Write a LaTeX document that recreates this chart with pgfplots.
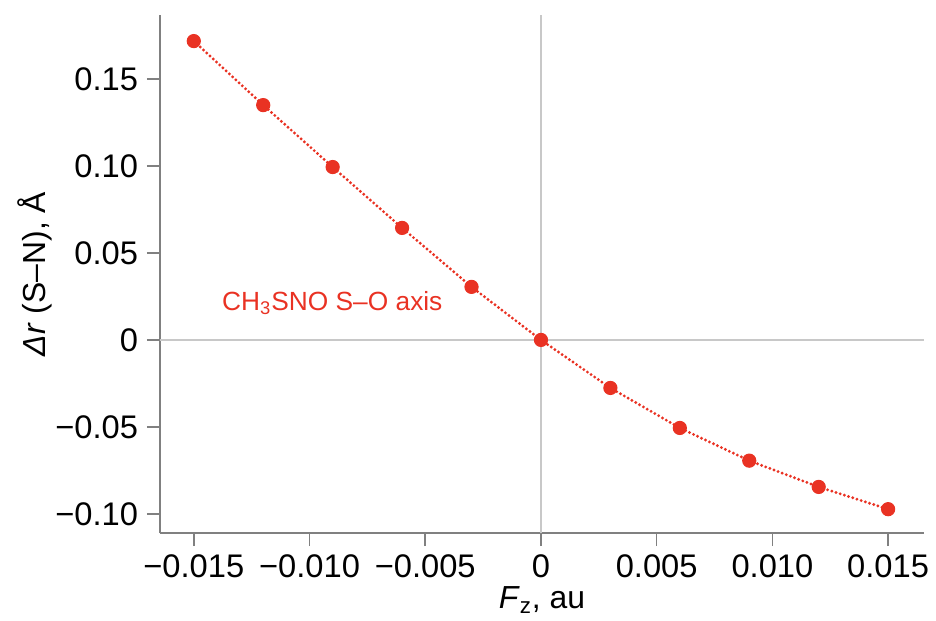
\documentclass[border=0pt]{standalone}
\usepackage{fontspec}
\setmainfont{Liberation Sans}
\usepackage{pgfplots}
\pgfplotsset{compat=1.18}
\definecolor{ptred}{RGB}{233,50,35}
\definecolor{axgray}{RGB}{128,128,128}
\definecolor{zerogray}{RGB}{200,200,200}
\begin{document}
\begin{tikzpicture}
\begin{axis}[
  name=ax,
  width=382bp, height=259bp, scale only axis,
  xmin=-0.01646, xmax=0.01655,
  ymin=-0.111, ymax=0.1868,
  axis lines*=left,
  axis line style={axgray, line width=0.8bp},
  tick style={axgray, line width=0.8bp},
  tick align=outside,
  major tick length=6.5bp,
  xtick={-0.015,-0.01,-0.005,0,0.005,0.01,0.015},
  xticklabels={−0.015,−0.010,−0.005,0,0.005,0.010,0.015},
  ytick={-0.1,-0.05,0,0.05,0.1,0.15},
  yticklabels={−0.10,−0.05,0,0.05,0.10,0.15},
  tick label style={font=\fontsize{16.4}{19}\selectfont},
  xticklabel style={yshift=-1bp},
  yticklabel style={xshift=-1bp},
  scaled x ticks=false,
  scaled y ticks=false,
  xlabel={\textit{F}\textsubscript{z}, au},
  ylabel={\textit{Δr} (S–N), Å},
  label style={font=\fontsize{16}{19}\selectfont},
  xlabel style={at={(axis description cs:0.5,-0.129)}, anchor=center},
  ylabel style={at={(axis description cs:-0.1636,0.5)}, anchor=center},
  clip=false,
]
\addplot[zerogray, line width=0.9bp, forget plot] coordinates {(0,-0.111) (0,0.1868)};
\addplot[zerogray, line width=0.9bp, forget plot] coordinates {(-0.01646,0) (0.01655,0)};
\addplot[ptred, line width=1.6bp, dash pattern=on 0bp off 2.2bp, line cap=round,
  mark=*, mark size=3.3bp, mark options={solid, fill=ptred, draw=ptred, line width=0.5bp}]
  coordinates {
  (-0.015,0.1718) (-0.012,0.1350) (-0.009,0.0994) (-0.006,0.0644) (-0.003,0.0305)
  (0,0) (0.003,-0.0276) (0.006,-0.0506) (0.009,-0.0694) (0.012,-0.0845) (0.015,-0.0973)
  };
\node[anchor=west, text=ptred, font=\fontsize{13.2}{15}\selectfont, inner sep=0pt]
  at (axis cs:-0.01379,0.0213) {CH\textsubscript{3}SNO S–O axis};
\end{axis}
\path (ax.south west) ++(-80bp,-43bp) coordinate (bbl);
\path (ax.south west) ++(388bp,266.5bp) coordinate (bbr);
\path[use as bounding box] (bbl) rectangle (bbr);
\end{tikzpicture}
\end{document}
